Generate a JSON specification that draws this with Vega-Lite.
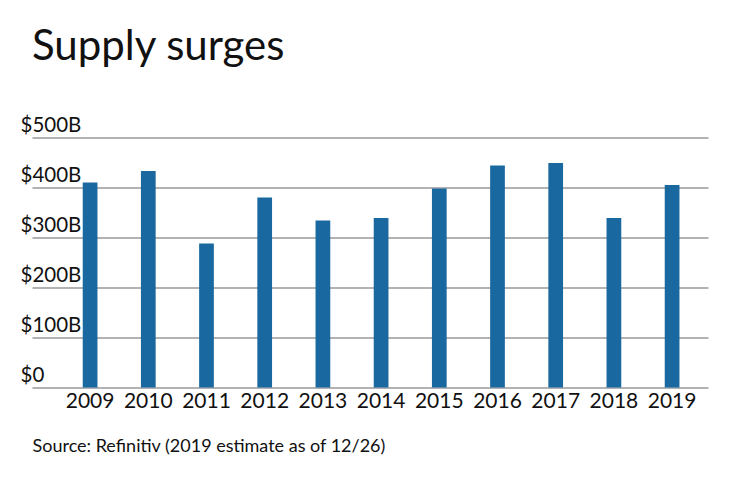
{
  "$schema": "https://vega.github.io/schema/vega-lite/v6.json",
  "width": 676,
  "height": 250,
  "autosize": {"type": "none"},
  "padding": {"left": 32, "top": 137.5, "right": 32, "bottom": 94.5},
  "background": "white",
  "view": {"stroke": null},
  "title": {
    "text": "Supply surges",
    "anchor": "start",
    "frame": "group",
    "font": "Lato",
    "fontSize": 42,
    "fontWeight": "normal",
    "color": "#111111",
    "baseline": "alphabetic",
    "offset": 14
  },
  "data": {
    "values": [
      {"year": "2009", "value": 410},
      {"year": "2010", "value": 433},
      {"year": "2011", "value": 288},
      {"year": "2012", "value": 380},
      {"year": "2013", "value": 334},
      {"year": "2014", "value": 339},
      {"year": "2015", "value": 398},
      {"year": "2016", "value": 444},
      {"year": "2017", "value": 449},
      {"year": "2018", "value": 339},
      {"year": "2019", "value": 405}
    ]
  },
  "mark": {"type": "bar", "color": "#1a68a0"},
  "encoding": {
    "x": {
      "field": "year",
      "type": "nominal",
      "sort": null,
      "scale": {"paddingInner": 0.747, "paddingOuter": 0.681, "align": 0.64},
      "axis": {
        "labelAngle": 0,
        "ticks": false,
        "domain": false,
        "grid": false,
        "labelFont": "Lato",
        "labelFontSize": 21,
        "labelColor": "#111111",
        "labelPadding": 3,
        "title": "Source: Refinitiv (2019 estimate as of 12/26)",
        "titleFont": "Lato",
        "titleFontSize": 18,
        "titleFontWeight": "normal",
        "titleColor": "#111111",
        "titleAnchor": "start",
        "titleAlign": "left",
        "titleBaseline": "alphabetic",
        "titleX": 0,
        "titleY": 63.5
      }
    },
    "y": {
      "field": "value",
      "type": "quantitative",
      "scale": {"domain": [0, 500], "nice": false},
      "axis": {
        "values": [0, 100, 200, 300, 400, 500],
        "labelExpr": "datum.value == 0 ? '$0' : '$' + datum.value + 'B'",
        "ticks": false,
        "domain": false,
        "grid": true,
        "gridColor": "#999999",
        "gridWidth": 1.3,
        "labelAlign": "left",
        "labelBaseline": "alphabetic",
        "labelOffset": -6,
        "labelPadding": 12,
        "labelFont": "Lato",
        "labelFontSize": 20.5,
        "labelColor": "#111111",
        "title": null
      }
    }
  }
}
